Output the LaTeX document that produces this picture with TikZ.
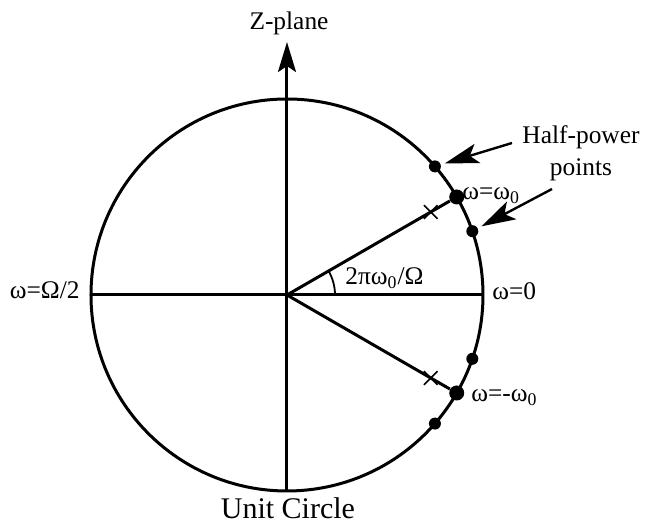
\documentclass[tikz,border=0pt]{standalone}
\usepackage{fontspec}
\setmainfont{Liberation Serif}
\usetikzlibrary{arrows.meta,positioning,shapes.misc}

\begin{document}
\begin{tikzpicture}[
  x=0.5pt,
  y=0.5pt,
  >=Stealth,
  font=\fontsize{12.7pt}{16pt}\selectfont,
  axisline/.style={
    draw=black,
    line width=1.5pt
  },
  freqdot/.style={
    circle,
    fill=black,
    inner sep=0pt,
    minimum size=7.5pt
  },
  hpdot/.style={
    circle,
    fill=black,
    inner sep=0pt,
    minimum size=6pt
  },
  polemark/.style={
    cross out,
    draw=black,
    line width=0.8pt,
    inner sep=0pt,
    minimum size=6pt
  },
  pointer/.style={
    -{Stealth[length=17pt,width=10pt,inset=4pt]},
    line width=1.2pt,
    shorten >=2pt
  }
]

  \useasboundingbox (-287,-234) rectangle (358,295);

  % ---------------------------------------------------------------------------
  % UNIT CIRCLE AND AXES
  % ---------------------------------------------------------------------------
  \coordinate (origin) at (0,0);
  \coordinate (west) at (180:196);
  \coordinate (east) at (0:196);
  \coordinate (south) at (270:196);
  \coordinate (imtip) at (0,253);

  \draw[axisline] (origin) circle[radius=196];
  \draw[axisline] (west) -- (east);
  \draw[axisline, -{Stealth[length=15pt,width=9pt,inset=3pt]}] (south) -- (imtip);

  % ---------------------------------------------------------------------------
  % RESONANCE POINTS, POLES AND HALF-POWER POINTS
  % ---------------------------------------------------------------------------
  \node[freqdot] (wpos) at (30:196) {};
  \node[freqdot] (wneg) at (-30:196) {};
  \draw[axisline] (origin) -- (wpos);
  \draw[axisline] (origin) -- (wneg);

  \node[polemark] (polepos) at (30:166) {};
  \node[polemark] (poleneg) at (-30:166) {};

  \node[hpdot] (hpposa) at (41:196) {};
  \node[hpdot] (hpposb) at (19:196) {};
  \node[hpdot] (hpnega) at (-19:196) {};
  \node[hpdot] (hpnegb) at (-41:196) {};

  % Angle arc
  \draw[line width=0.9pt] (48,0) arc[start angle=0, end angle=30, radius=48];

  % ---------------------------------------------------------------------------
  % LABELS
  % ---------------------------------------------------------------------------
  \node[anchor=base] (zplane) at (2,265) {Z-plane};
  \node[anchor=base, font=\fontsize{15pt}{18pt}\selectfont] (unitcircle) at (1,-224) {Unit Circle};
  \node[anchor=base east, inner sep=0pt] (halfomega) at (-207,-4) {ω=Ω/2};
  \node[anchor=base west, inner sep=0pt] (zeroomega) at (205,-5) {ω=0};
  \node[anchor=base west, inner sep=0pt] (wposlabel) at (175,95) {ω=ω\textsubscript{0}};
  \node[anchor=base west, inner sep=0pt] (wneglabel) at (184,-107) {ω=-ω\textsubscript{0}};
  \node[anchor=base west, inner sep=0pt] (anglelabel) at (58,10) {2πω\textsubscript{0}/Ω};
  \node[align=center, inner sep=0pt] (hplabel) at (294,142) {Half-power\\points};

  % Pointers to the half-power points
  \coordinate (hptailup) at (225,152);
  \coordinate (hptaillow) at (265,106);
  \draw[pointer] (hptailup) -- (hpposa);
  \draw[pointer] (hptaillow) -- (hpposb);

\end{tikzpicture}
\end{document}
